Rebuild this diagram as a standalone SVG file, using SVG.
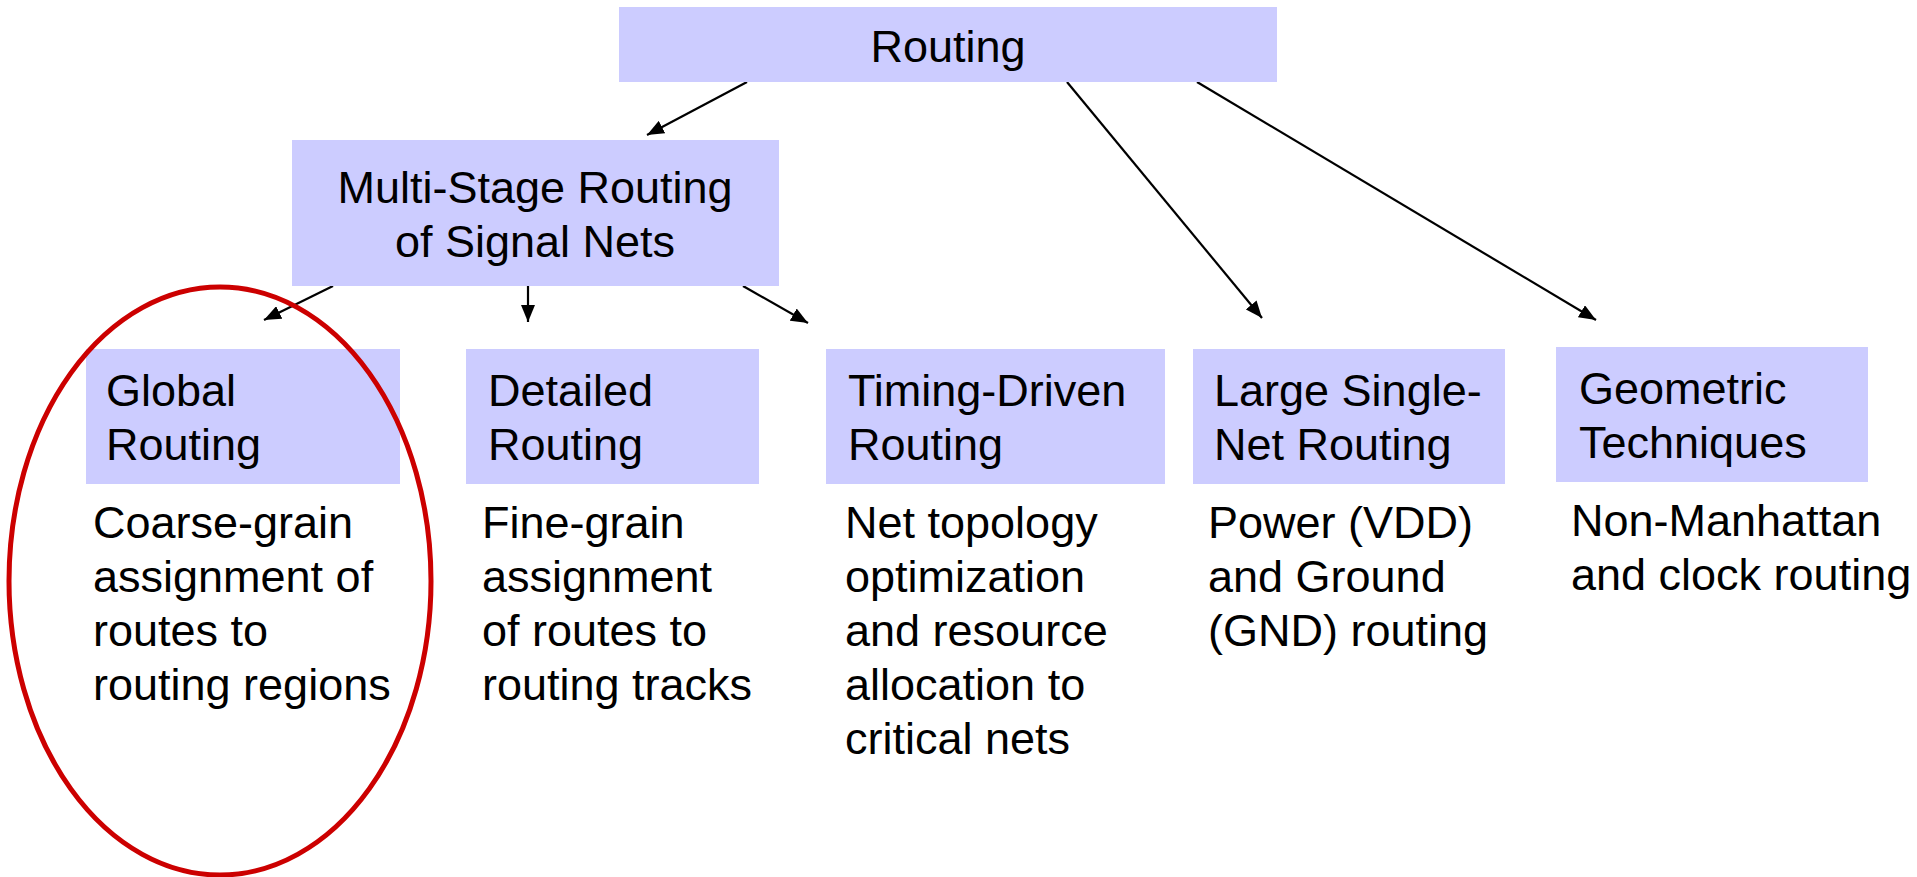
<svg xmlns="http://www.w3.org/2000/svg" width="1917" height="877" viewBox="0 0 1917 877">
  <style>
    .box { fill: #CCCCFF; stroke: none; }
    .t { font-family: "Liberation Sans", Arial, sans-serif; font-size: 45px; fill: #000; }
    .mid { text-anchor: middle; }
    .edge { stroke: #000; stroke-width: 2.2; fill: none; marker-end: url(#head); }
  </style>
  <defs>
    <marker id="head" markerUnits="userSpaceOnUse" markerWidth="18" markerHeight="14" refX="17" refY="7" orient="auto">
      <path d="M0,0 L17,7 L0,14 z" fill="#000"/>
    </marker>
  </defs>

  <rect width="1917" height="877" fill="#fff"/>

  <!-- connectors -->
  <g id="connectors">
    <line class="edge" x1="747" y1="82" x2="647" y2="135"/>
    <line class="edge" x1="1067" y1="82" x2="1262" y2="318"/>
    <line class="edge" x1="1197" y1="82" x2="1596" y2="320"/>
    <line class="edge" x1="333" y1="286" x2="264" y2="320"/>
    <line class="edge" x1="528" y1="286" x2="528" y2="322"/>
    <line class="edge" x1="743" y1="286" x2="808" y2="323"/>
  </g>

  <g id="routing">
    <rect class="box" x="619" y="7" width="658" height="75"/>
    <text class="t mid" x="948" y="62">Routing</text>
  </g>

  <g id="multi-stage">
    <rect class="box" x="292" y="140" width="487" height="146"/>
    <text class="t mid" x="535" y="203">Multi-Stage Routing</text>
    <text class="t mid" x="535" y="257">of Signal Nets</text>
  </g>

  <g id="global">
    <rect class="box" x="86" y="349" width="314" height="135"/>
    <text class="t" x="106" y="406">Global</text>
    <text class="t" x="106" y="460">Routing</text>
    <text class="t" x="93" y="538">Coarse-grain</text>
    <text class="t" x="93" y="592">assignment of</text>
    <text class="t" x="93" y="646">routes to</text>
    <text class="t" x="93" y="700">routing regions</text>
  </g>

  <g id="detailed">
    <rect class="box" x="466" y="349" width="293" height="135"/>
    <text class="t" x="488" y="406">Detailed</text>
    <text class="t" x="488" y="460">Routing</text>
    <text class="t" x="482" y="538">Fine-grain</text>
    <text class="t" x="482" y="592">assignment</text>
    <text class="t" x="482" y="646">of routes to</text>
    <text class="t" x="482" y="700">routing tracks</text>
  </g>

  <g id="timing-driven">
    <rect class="box" x="826" y="349" width="339" height="135"/>
    <text class="t" x="848" y="406">Timing-Driven</text>
    <text class="t" x="848" y="460">Routing</text>
    <text class="t" x="845" y="538">Net topology</text>
    <text class="t" x="845" y="592">optimization</text>
    <text class="t" x="845" y="646">and resource</text>
    <text class="t" x="845" y="700">allocation to</text>
    <text class="t" x="845" y="754">critical nets</text>
  </g>

  <g id="large-single-net">
    <rect class="box" x="1193" y="349" width="312" height="135"/>
    <text class="t" x="1214" y="406">Large Single-</text>
    <text class="t" x="1214" y="460">Net Routing</text>
    <text class="t" x="1208" y="538">Power (VDD)</text>
    <text class="t" x="1208" y="592">and Ground</text>
    <text class="t" x="1208" y="646">(GND) routing</text>
  </g>

  <g id="geometric">
    <rect class="box" x="1556" y="347" width="312" height="135"/>
    <text class="t" x="1579" y="404">Geometric</text>
    <text class="t" x="1579" y="458">Techniques</text>
    <text class="t" x="1571" y="536">Non-Manhattan</text>
    <text class="t" x="1571" y="590">and clock routing</text>
  </g>

  <!-- highlight ring -->
  <ellipse id="highlight" cx="220" cy="581" rx="211" ry="294" fill="none" stroke="#CC0000" stroke-width="5"/>
</svg>
